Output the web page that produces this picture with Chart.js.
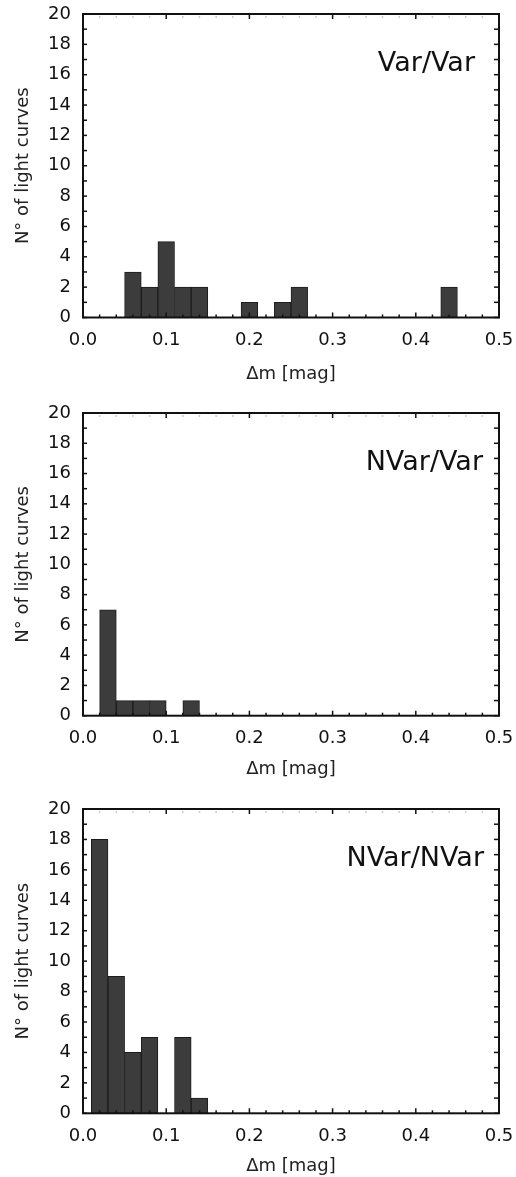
<!DOCTYPE html>
<html lang="en">
<head>
  <meta charset="UTF-8">
  <title>Δm histograms</title>
  <script src="https://cdn.jsdelivr.net/npm/chart.js"></script>
  <style>
    body { margin: 0; background: #fff; width: 516px; }
    canvas { display: block; }
  </style>
</head>
<body>
  <canvas id="c1" width="516" height="390"></canvas>
  <canvas id="c2" width="516" height="395"></canvas>
  <canvas id="c3" width="516" height="392"></canvas>

  <script>
    // --- data (bin centres in mag, counts per 0.02 mag bin) ---
    const varVarBins = [0.06, 0.08, 0.10, 0.12, 0.14, 0.20, 0.24, 0.26, 0.44];
    const varVarCounts = [3, 2, 5, 2, 2, 1, 1, 2, 2];

    const nvarVarBins = [0.03, 0.05, 0.07, 0.09, 0.13];
    const nvarVarCounts = [7, 1, 1, 1, 1];

    const nvarNvarBins = [0.02, 0.04, 0.06, 0.08, 0.12, 0.14];
    const nvarNvarCounts = [18, 9, 4, 5, 5, 1];

    const xMin = 0, xMax = 0.5, xStep = 0.1, xMinor = 0.02;
    const yMin = 0, yMax = 20, yStep = 2, yMinor = 1;

    const FONT = 'DejaVu Sans';

    // frame, inward ticks and the panel label
    const frameTicks = {
      id: 'frameTicks',
      afterDatasetsDraw(chart, args, opts) {
        const { ctx, chartArea: a, scales: { x, y } } = chart;
        const line = (x0, y0, x1, y1) => { ctx.beginPath(); ctx.moveTo(x0, y0); ctx.lineTo(x1, y1); ctx.stroke(); };
        ctx.save();
        ctx.lineWidth = 1.5;
        const nx = Math.round((xMax - xMin) / xMinor);
        for (let i = 0; i <= nx; i++) {
          const px = x.getPixelForValue(xMin + i * xMinor);
          const major = i % Math.round(xStep / xMinor) === 0;
          ctx.strokeStyle = '#111';
          line(px, a.bottom, px, a.bottom - (major ? 5 : 3));
          if (major) line(px, a.top, px, a.top + 5);
          else { ctx.strokeStyle = '#ccc'; line(px, a.top + 2, px, a.top + 4); }
        }
        ctx.strokeStyle = '#111';
        for (let v = yMin; v <= yMax; v += yMinor) {
          const py = y.getPixelForValue(v);
          line(a.left, py, a.left + 4, py);
          line(a.right, py, a.right - 5, py);
        }
        ctx.lineWidth = 2;
        ctx.strokeRect(a.left, a.top, a.right - a.left, a.bottom - a.top);

        ctx.fillStyle = '#111';
        ctx.font = '27px "' + FONT + '"';
        ctx.textAlign = 'right';
        ctx.textBaseline = 'alphabetic';
        ctx.fillText(opts.label, a.right - opts.labelRight, a.top + 57);
        ctx.restore();
      }
    };

    function makePanel(id, bins, counts, label, g) {
      new Chart(document.getElementById(id), {
        type: 'bar',
        data: {
          datasets: [{
            data: bins.map((b, i) => ({ x: b, y: counts[i] })),
            backgroundColor: '#3c3c3c',
            borderColor: '#1c1c1c',
            borderWidth: 1,
            barPercentage: 1,
            categoryPercentage: 1
          }]
        },
        options: {
          responsive: false,
          animation: false,
          layout: { padding: { top: g.top, right: 17, bottom: 0, left: 0 } },
          plugins: {
            legend: { display: false },
            tooltip: { enabled: false },
            frameTicks: { label: label, labelRight: g.labelRight }
          },
          scales: {
            x: {
              type: 'linear',
              offset: false,
              min: xMin, max: xMax,
              grid: { display: false, drawTicks: false, offset: false },
              border: { display: false },
              afterFit: s => { s.height = g.xh; s.paddingLeft = 0; s.paddingRight = 0; },
              ticks: {
                stepSize: xStep, padding: 12, maxRotation: 0, autoSkip: false,
                color: '#111', font: { family: FONT, size: 18 },
                callback: v => v.toFixed(1)
              },
              title: {
                display: true, text: 'Δm [mag]', color: '#222',
                font: { family: FONT, size: 18 },
                padding: { top: 0, bottom: g.titleBottom }
              }
            },
            y: {
              min: yMin, max: yMax,
              grid: { display: false, drawTicks: false },
              border: { display: false },
              afterFit: s => { s.width = 83; s.paddingTop = 0; s.paddingBottom = 0; },
              ticks: {
                stepSize: yStep, padding: 12,
                color: '#111', font: { family: FONT, size: 18 }
              },
              title: {
                display: true, text: 'N° of light curves', color: '#222',
                font: { family: FONT, size: 18 },
                padding: { top: 13, bottom: 0 }
              }
            }
          }
        },
        plugins: [frameTicks]
      });
    }

    makePanel('c1', varVarBins, varVarCounts, 'Var/Var', { top: 14, xh: 72.5, titleBottom: 5, labelRight: 24 });
    makePanel('c2', nvarVarBins, nvarVarCounts, 'NVar/Var', { top: 23, xh: 69.3, titleBottom: 5, labelRight: 16 });
    makePanel('c3', nvarNvarBins, nvarNvarCounts, 'NVar/NVar', { top: 24, xh: 63.7, titleBottom: 0, labelRight: 15 });
  </script>
</body>
</html>
